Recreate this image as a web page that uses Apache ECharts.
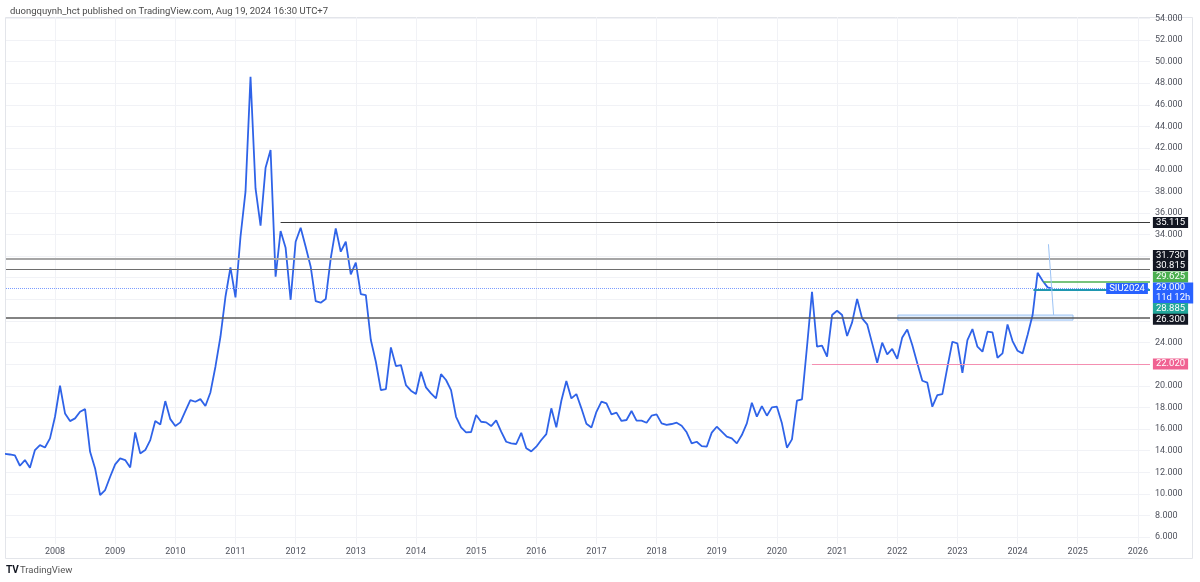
<!DOCTYPE html>
<html><head><meta charset="utf-8">
<script src="https://cdn.jsdelivr.net/npm/echarts@6/dist/echarts.min.js"></script>
<style>html,body{margin:0;padding:0;background:#fff}#c{width:1200px;height:582px}</style>
</head><body><div id="c"></div>
<script>
// ---------------- DATA ----------------
const firstMonth = '2007-03';           // monthly closes start March 2007
const closes = [
  // 2007 Mar..Dec
  13.70, 13.65, 13.56, 12.61, 13.13, 12.42, 14.06, 14.52, 14.30, 15.14,
  // 2008
  17.14, 20.01, 17.45, 16.74, 16.99, 17.60, 17.85, 13.90, 12.36, 9.90, 10.36, 11.59,
  // 2009
  12.73, 13.29, 13.13, 12.45, 15.69, 13.75, 14.06, 14.98, 16.74, 16.43, 18.59, 16.92,
  // 2010
  16.28, 16.62, 17.66, 18.68, 18.53, 18.77, 18.13, 19.39, 21.77, 24.54, 28.24, 30.96,
  // 2011
  28.18, 33.79, 37.96, 48.59, 38.26, 34.81, 40.17, 41.81, 30.09, 34.32, 32.77, 27.96,
  // 2012
  33.33, 34.63, 32.87, 31.02, 27.84, 27.69, 28.03, 31.79, 34.57, 32.41, 33.33, 30.31,
  // 2013
  31.39, 28.49, 28.40, 24.24, 22.23, 19.61, 19.70, 23.56, 21.83, 21.92, 20.07, 19.55,
  // 2014
  19.24, 21.31, 19.86, 19.30, 18.84, 21.09, 20.54, 19.61, 17.14, 16.16, 15.70, 15.73,
  // 2015
  17.30, 16.68, 16.62, 16.28, 16.81, 15.76, 14.83, 14.68, 14.62, 15.66, 14.22, 13.94,
  // 2016
  14.37, 14.99, 15.54, 17.92, 16.16, 18.62, 20.44, 18.84, 19.24, 17.92, 16.50, 16.15,
  // 2017
  17.60, 18.54, 18.38, 17.36, 17.52, 16.75, 16.84, 17.67, 16.78, 16.78, 16.59, 17.24,
  // 2018
  17.36, 16.53, 16.38, 16.47, 16.59, 16.31, 15.70, 14.68, 14.83, 14.43, 14.37, 15.67,
  // 2019
  16.22, 15.76, 15.30, 15.14, 14.68, 15.45, 16.53, 18.44, 17.15, 18.13, 17.24, 18.01,
  // 2020
  18.07, 16.53, 14.28, 15.05, 18.63, 18.75, 23.62, 28.70, 23.62, 23.72, 22.70, 26.55,
  // 2021
  26.95, 26.55, 24.61, 25.87, 28.03, 26.24, 25.69, 23.93, 22.14, 23.99, 22.91, 23.41,
  // 2022
  22.50, 24.48, 25.22, 23.77, 22.08, 20.47, 20.29, 18.07, 19.15, 19.24, 21.71, 24.08,
  // 2023
  23.93, 21.21, 24.23, 25.25, 23.62, 23.16, 25.01, 24.94, 22.60, 23.00, 25.68, 24.14,
  // 2024 Jan..Aug
  23.25, 23.00, 24.70, 26.55, 30.46, 29.72, 29.11, 29.00
];
const yearLabels = [2008,2009,2010,2011,2012,2013,2014,2015,2016,2017,2018,2019,2020,2021,2022,2023,2024,2025,2026];
const priceTicks = [6,8,10,12,14,16,18,20,22,24,26,28,30,32,34,36,38,40,42,44,46,48,50,52,54];
// drawn horizontal levels (value, start date or null = full width)
const levelValues = [35.115, 31.730, 30.815, 29.625, 29.000, 28.885, 26.300, 22.020];
const levelStarts = ['2011-10-01', null, null, '2024-06-06', null, '2024-04-06', null, '2020-08-01'];
const boxZone = [['2022-01-05', 26.55], ['2024-12-03', 26.08]];
const trendSeg = [['2024-07-06', 33.10], ['2024-08-07', 26.55]];
const viewRange = ['2007-03-08', '2026-03-14'];
const symbolName = 'SIU2024';
const countdown = '11d 12h';
const headerText = 'duongquynh_hct published on TradingView.com, Aug 19, 2024 16:30 UTC+7';

// ---------------- STYLE ----------------
const FONT = 'Roboto, "Liberation Sans", sans-serif';
const levelStyle = [
  {color:'#3a3a3a', width:1,   type:'solid',  tag:'#131722', dy:0},
  {color:'#a6a6a6', width:2.2, type:'solid',  tag:'#131722', dy:-3.5},
  {color:'#6e6e6e', width:1.2, type:'solid',  tag:'#131722', dy:-3.4},
  {color:'#4caf50', width:1.5, type:'solid',  tag:'#4caf50', dy:-4.8},
  {color:'#7b9cff', width:1,   type:'dotted', tag:'#2962ff', dy:4.5},
  {color:'#1f97b0', width:1.8, type:'solid',  tag:'#22a69a', dy:18.7},
  {color:'#5a5a5a', width:1.5, type:'solid',  tag:'#131722', dy:1.5},
  {color:'#f48fb1', width:1,   type:'solid',  tag:'#f06292', dy:0}
];

// x axis in "months since Jan 2007" (fractional)
function monthPos(s) {
  const p = s.split('-').map(Number);
  const d = p[2] || 1;
  const dim = new Date(p[0], p[1], 0).getDate();
  return (p[0] - 2007) * 12 + (p[1] - 1) + (d - 1) / dim;
}
const m0 = monthPos(firstMonth);
const seriesData = closes.map((v, i) => [m0 + i, v]);
const yearTicks = yearLabels.map(y => (y - 2007) * 12);
const xMin = monthPos(viewRange[0]);
const xMax = monthPos(viewRange[1]);

const markLines = levelValues.map((v, i) => {
  const st = levelStyle[i];
  const ls = {color: st.color, width: st.width, type: st.type};
  if (levelStarts[i]) {
    return [{coord: [monthPos(levelStarts[i]), v], lineStyle: ls}, {coord: [xMax, v]}];
  }
  return {yAxis: v, lineStyle: ls};
});
markLines.push([{coord: [monthPos(trendSeg[0][0]), trendSeg[0][1]], lineStyle: {color: '#9cc3f5', width: 1, type: 'solid'}},
                {coord: [monthPos(trendSeg[1][0]), trendSeg[1][1]]}]);

const tagX = xMax - 0.02;
const markPoints = levelValues.map((v, i) => ({
  coord: [tagX, v], symbol: 'rect', symbolSize: 0,
  label: {
    show: true, position: 'right', distance: 3, offset: [0, levelStyle[i].dy],
    formatter: i === 4 ? v.toFixed(3) + '\n' + countdown : v.toFixed(3),
    backgroundColor: levelStyle[i].tag, color: '#fff', padding: [1, 3, 0, 3],
    fontSize: 9.5, lineHeight: 10, fontFamily: FONT
  }
}));
markPoints.push({
  coord: [tagX, levelValues[4]], symbol: 'rect', symbolSize: 0,
  label: {show: true, position: 'left', distance: 2, formatter: symbolName,
    backgroundColor: '#2962ff', color: '#fff', padding: [1, 3, 0, 3], fontSize: 9.5, lineHeight: 10, fontFamily: FONT}
});

const chart = echarts.init(document.getElementById('c'), null, {renderer: 'canvas'});
chart.setOption({
  animation: false,
  backgroundColor: '#fff',
  title: {text: headerText, left: 5, top: 2,
    textStyle: {fontSize: 9.5, fontWeight: 'normal', color: '#4a4a4a', fontFamily: FONT}},
  graphic: [
    {type: 'rect', z: -1, silent: true, shape: {x: 5.5, y: 17.5, width: 1187, height: 541},
      style: {fill: 'none', stroke: '#e3e5ea', lineWidth: 1}},
    {type: 'text', left: 6, top: 565, style: {text: 'TV', fontSize: 10, fontWeight: 'bold', fill: '#131722', fontFamily: FONT}},
    {type: 'text', left: 20, top: 566, style: {text: 'TradingView', fontSize: 9.5, fill: '#555', fontFamily: FONT}}
  ],
  grid: {left: 6, right: 50, top: 17, bottom: 38, containLabel: false},
  xAxis: {
    type: 'value', min: xMin, max: xMax,
    axisLine: {show: false}, axisTick: {show: false, customValues: yearTicks},
    axisLabel: {customValues: yearTicks, margin: 3, fontSize: 9, color: '#50535e', fontFamily: FONT,
      formatter: v => String(2007 + Math.round(v / 12))},
    splitLine: {show: true, lineStyle: {color: '#f1f2f6', width: 1}}
  },
  yAxis: {
    type: 'value', position: 'right', min: 5.37, max: 54.12,
    axisLine: {show: false}, axisTick: {show: false, customValues: priceTicks},
    axisLabel: {customValues: priceTicks, margin: 5, fontSize: 9, color: '#50535e', fontFamily: FONT,
      formatter: v => v.toFixed(3)},
    splitLine: {show: true, lineStyle: {color: '#f1f2f6', width: 1}}
  },
  series: [{
    name: symbolName, type: 'line', data: seriesData, showSymbol: false,
    lineStyle: {color: '#2f63e8', width: 1.8}, z: 3,
    markArea: {silent: true, itemStyle: {color: 'rgba(144,190,249,0.25)', borderColor: '#9cc3f5', borderWidth: 1},
      data: [[{coord: [monthPos(boxZone[0][0]), boxZone[0][1]]}, {coord: [monthPos(boxZone[1][0]), boxZone[1][1]]}]]},
    markLine: {silent: true, symbol: ['none', 'none'], label: {show: false}, data: markLines},
    markPoint: {silent: true, data: markPoints}
  }]
});
</script></body></html>
